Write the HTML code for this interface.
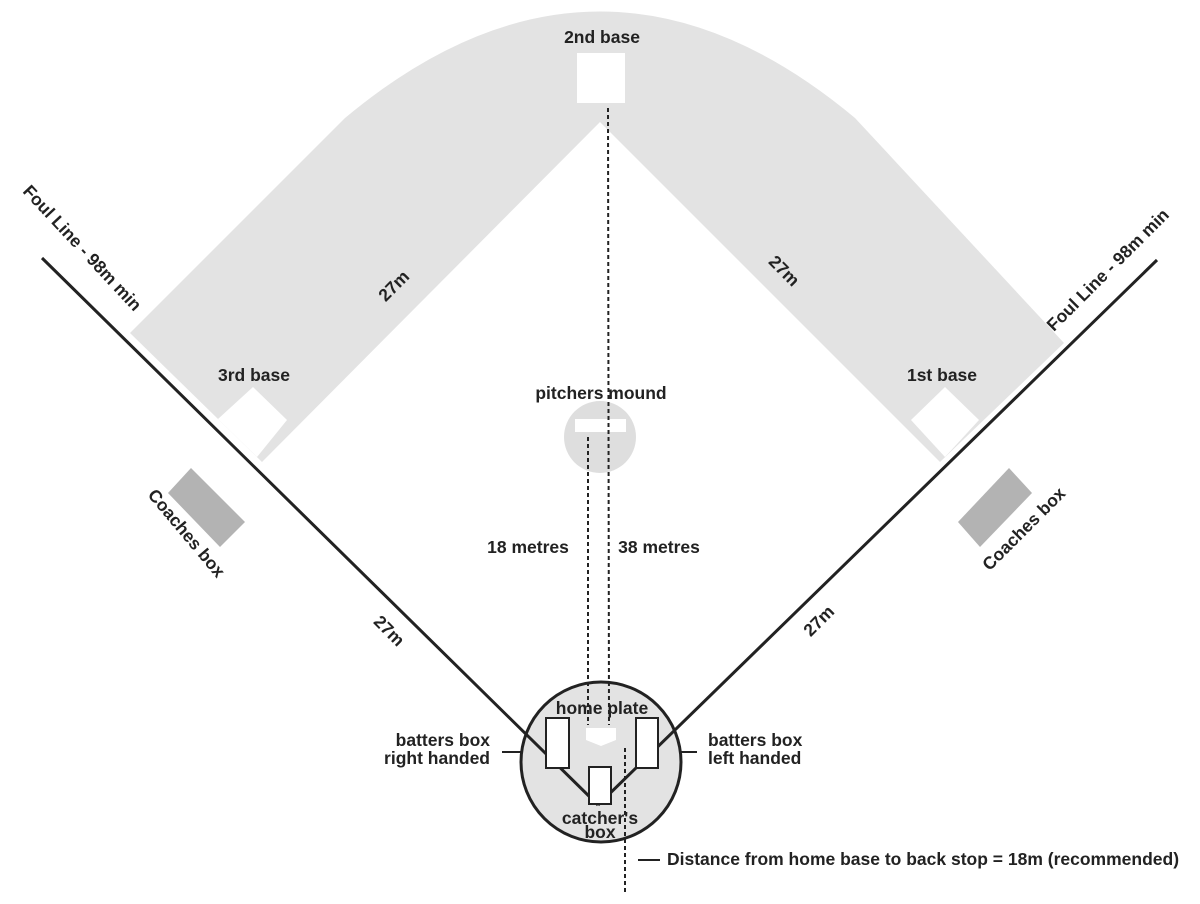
<!DOCTYPE html>
<html><head><meta charset="utf-8"><style>
html,body{margin:0;padding:0;background:#fff}
svg{display:block}
text{font-family:"Liberation Sans",Arial,sans-serif;font-weight:bold;font-size:17.5px;fill:#222}
</style></head><body>
<svg width="1200" height="904" viewBox="0 0 1200 904" xmlns="http://www.w3.org/2000/svg">
<path d="M130,333 L345,118 Q600,-95 855,118 L1064,343 L940,462 L600,122 L262,462 Z" fill="#e3e3e3"/>
<rect x="577" y="53" width="48" height="50" fill="#fff"/>
<polygon points="253,387 287,420 257,457 218,419" fill="#fff"/>
<polygon points="945,387 979,420 945,457 911,420" fill="#fff"/>
<polygon points="191,468 245,522 220,547 168,493" fill="#b3b3b3"/>
<polygon points="1009,468 1032,493 980,547 958,522" fill="#b3b3b3"/>
<circle cx="600" cy="437" r="36" fill="#dedede"/>
<rect x="575" y="419" width="51" height="13" fill="#fff"/>
<circle cx="601" cy="762" r="80" fill="#e3e3e3" stroke="#222" stroke-width="3"/>
<line x1="42" y1="258" x2="598" y2="805" stroke="#222" stroke-width="3"/>
<line x1="1157" y1="260" x2="598" y2="805" stroke="#222" stroke-width="3"/>
<rect x="546" y="718" width="23" height="50" fill="#fff" stroke="#222" stroke-width="2"/>
<rect x="636" y="718" width="22" height="50" fill="#fff" stroke="#222" stroke-width="2"/>
<rect x="589" y="767" width="22" height="37" fill="#fff" stroke="#222" stroke-width="2"/>
<polygon points="586,728 616,728 616,740 601,746 586,740" fill="#fff"/>
<line x1="502" y1="752" x2="522" y2="752" stroke="#222" stroke-width="2"/>
<line x1="679" y1="752" x2="697" y2="752" stroke="#222" stroke-width="2"/>
<line x1="638" y1="860" x2="660" y2="860" stroke="#222" stroke-width="2"/>
<g stroke="#222" stroke-width="2" stroke-dasharray="4,3" fill="none">
<line x1="608" y1="108" x2="609" y2="725"/>
<line x1="588" y1="437" x2="588" y2="725"/>
<line x1="625" y1="748" x2="625" y2="895"/>
</g>
<text x="602" y="43" text-anchor="middle">2nd base</text>
<text x="254" y="381" text-anchor="middle">3rd base</text>
<text x="942" y="381" text-anchor="middle">1st base</text>
<text x="601" y="399" text-anchor="middle">pitchers mound</text>
<text x="528" y="553" text-anchor="middle">18 metres</text>
<text x="659" y="553" text-anchor="middle">38 metres</text>
<text x="602" y="714" text-anchor="middle">home plate</text>
<text x="600" y="824" text-anchor="middle">catcher's</text>
<text x="600" y="838" text-anchor="middle">box</text>
<text x="490" y="746" text-anchor="end">batters box</text>
<text x="490" y="764" text-anchor="end">right handed</text>
<text x="708" y="746">batters box</text>
<text x="708" y="764">left handed</text>
<text x="667" y="865">Distance from home base to back stop = 18m (recommended)</text>
<text font-size="19" transform="translate(398,290) rotate(-45)" text-anchor="middle">27m</text>
<text font-size="19" transform="translate(780,275) rotate(45)" text-anchor="middle">27m</text>
<text font-size="19" transform="translate(385,635) rotate(45)" text-anchor="middle">27m</text>
<text font-size="19" transform="translate(823,625) rotate(-45)" text-anchor="middle">27m</text>
<text transform="translate(78,252) rotate(47)" text-anchor="middle">Foul Line - 98m min</text>
<text transform="translate(1112,274) rotate(-45)" text-anchor="middle">Foul Line - 98m min</text>
<text transform="translate(182,537) rotate(50)" text-anchor="middle">Coaches box</text>
<text transform="translate(1028,533) rotate(-45)" text-anchor="middle">Coaches box</text>
</svg>
</body></html>
